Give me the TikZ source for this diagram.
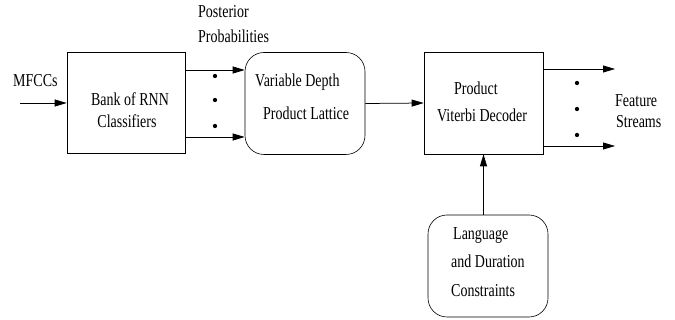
\documentclass[tikz,border=0pt]{standalone}
\usepackage{fontspec}
\setmainfont{Liberation Serif}
\usepackage{graphicx}
\usetikzlibrary{arrows.meta,calc}
\newcommand{\ys}[1]{\scalebox{1}[1.3]{#1}}
\begin{document}
\begin{tikzpicture}[x=1pt,y=-1pt,
  box/.style={draw,line width=0.6pt,inner sep=0pt},
  rbox/.style={box,rounded corners=19pt},
  arr/.style={line width=0.75pt,-{Triangle[length=12pt,width=7pt]}},
  lbl/.style={inner sep=0pt,font=\fontsize{14}{16}\selectfont},
  dot/.style={circle,fill,inner sep=0pt,minimum size=4.3pt}]
\useasboundingbox (0,0) rectangle (675,320);
% boxes
\node[box,minimum width=118pt,minimum height=101pt] (bank) at (126,103) {};
\node[rbox,minimum width=120pt,minimum height=102pt] (lat) at (305,103.5) {};
\node[box,minimum width=119pt,minimum height=102pt] (dec) at (483.5,103) {};
\node[rbox,minimum width=120pt,minimum height=102pt] (cons) at (488,266) {};
% texts
\node[lbl,anchor=base west] (mfcc) at (13,87) {\ys{MFCCs}};
\node[lbl,anchor=base] (t1) at (130,106) {\ys{Bank of RNN}};
\node[lbl,anchor=base] (t2) at (127,128) {\ys{Classifiers}};
\node[lbl,anchor=base west] (p1) at (198,18) {\ys{Posterior}};
\node[lbl,anchor=base west] (p2) at (198,43) {\ys{Probabilities}};
\node[lbl,anchor=base west] (v1) at (255,87) {\ys{Variable Depth}};
\node[lbl,anchor=base west] (v2) at (263,120) {\ys{Product Lattice}};
\node[lbl,anchor=base west] (d1) at (454,95) {\ys{Product}};
\node[lbl,anchor=base west] (d2) at (437,122) {\ys{Viterbi Decoder}};
\node[lbl,anchor=base west] (f1) at (615,107) {\ys{Feature}};
\node[lbl,anchor=base west] (f2) at (616,128) {\ys{Streams}};
\node[lbl,anchor=base west] (c1) at (453,240) {\ys{Language}};
\node[lbl,anchor=base west] (c2) at (451,268) {\ys{and Duration}};
\node[lbl,anchor=base west] (c3) at (451,297) {\ys{Constraints}};
% connectors
\coordinate (in) at (20,103);
\draw[arr] (in) -- (bank.west);
\draw[arr] ($(bank.east)+(0,-33)$) -- ($(lat.west)+(0,-33.5)$);
\draw[arr] ($(bank.east)+(0,34)$) -- ($(lat.west)+(0,33.5)$);
\draw[arr] (lat.east) -- (dec.west);
\coordinate (o1) at (615,69);
\coordinate (o2) at (615,146);
\draw[arr] (dec.east |- o1) -- (o1);
\draw[arr] (dec.east |- o2) -- (o2);
\draw[arr] (dec.south |- cons.north) -- (dec.south);
% dots
\node[dot] (a1) at (215,76) {};
\node[dot] (a2) at (215,100) {};
\node[dot] (a3) at (215,126) {};
\node[dot] (b1) at (577,83) {};
\node[dot] (b2) at (577,109) {};
\node[dot] (b3) at (577,135) {};
\end{tikzpicture}
\end{document}
